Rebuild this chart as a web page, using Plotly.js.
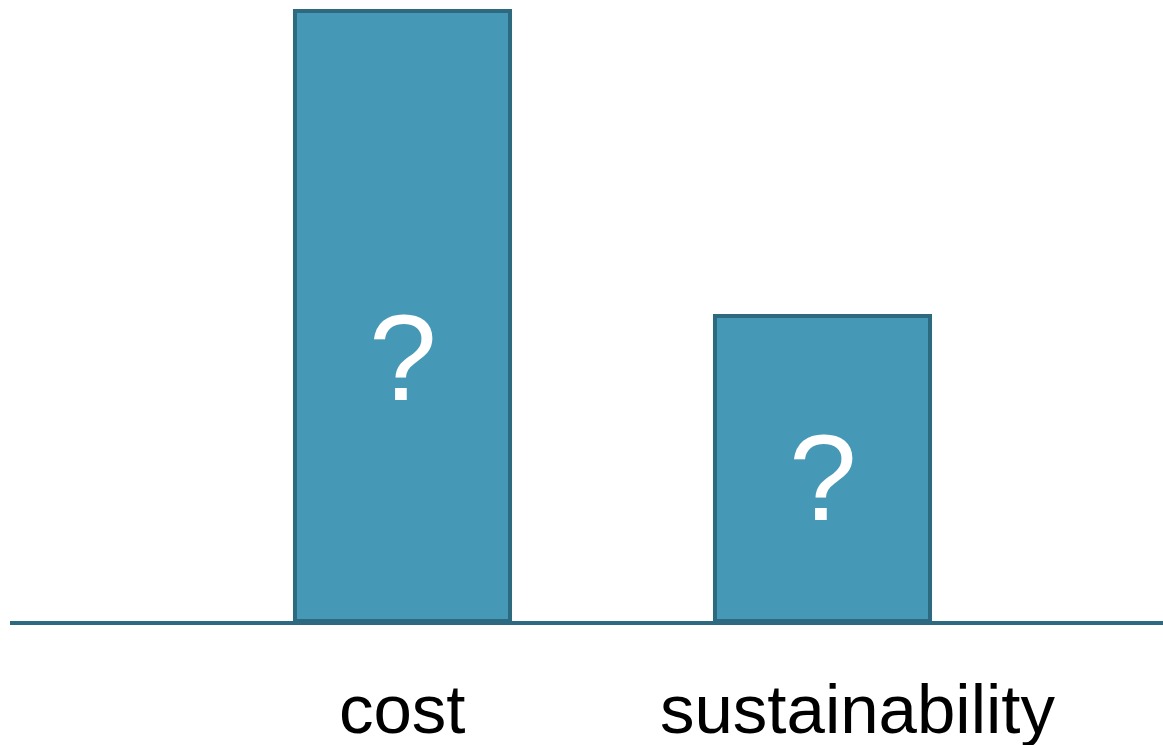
<!DOCTYPE html>
<html>
<head>
<meta charset="utf-8">
<script src="https://cdn.plot.ly/plotly-3.0.1.min.js"></script>
<style>html,body{margin:0;padding:0;background:#fff;}#chart{width:1163px;height:745px;}</style>
</head>
<body>
<div id="chart"></div>
<script>
const categories = ["cost", "sustainability"];
const values = [2, 1];
const barTexts = ["?", "?"];
const textLevels = [0.862, 0.469];

const fillColor = "#4598b6";
const edgeColor = "#2d6a7f";
const labelShift = [0, 35];

const idx = categories.map((c, i) => i);

const trace = {
  type: "bar",
  x: idx,
  y: values,
  width: 0.512,
  marker: { color: fillColor, line: { color: edgeColor, width: 4 } },
  hoverinfo: "none"
};

const annotations = [];
idx.forEach((i) => {
  annotations.push({
    x: i, y: textLevels[i], xref: "x", yref: "y",
    text: barTexts[i], showarrow: false,
    font: { family: "Liberation Sans, Arial, sans-serif", size: 122, color: "#ffffff" },
    xanchor: "center", yanchor: "middle"
  });
  annotations.push({
    x: i, y: 0, xref: "x", yref: "paper",
    text: categories[i], showarrow: false,
    xshift: labelShift[i], yshift: -48,
    font: { family: "Liberation Sans, Arial, sans-serif", size: 69, color: "#000000" },
    xanchor: "center", yanchor: "top"
  });
});

const layout = {
  width: 1163, height: 745,
  margin: { l: 10, r: 0, t: 0, b: 124 },
  paper_bgcolor: "#ffffff", plot_bgcolor: "#ffffff",
  showlegend: false,
  xaxis: {
    range: [-0.9345, 1.8107],
    showticklabels: false, ticks: "", showgrid: false, zeroline: false,
    showline: true, linecolor: edgeColor, linewidth: 4
  },
  yaxis: {
    range: [0, 2.036],
    visible: false, showgrid: false, zeroline: false
  },
  annotations: annotations
};

Plotly.newPlot("chart", [trace], layout, { displayModeBar: false, staticPlot: true });
</script>
</body>
</html>
